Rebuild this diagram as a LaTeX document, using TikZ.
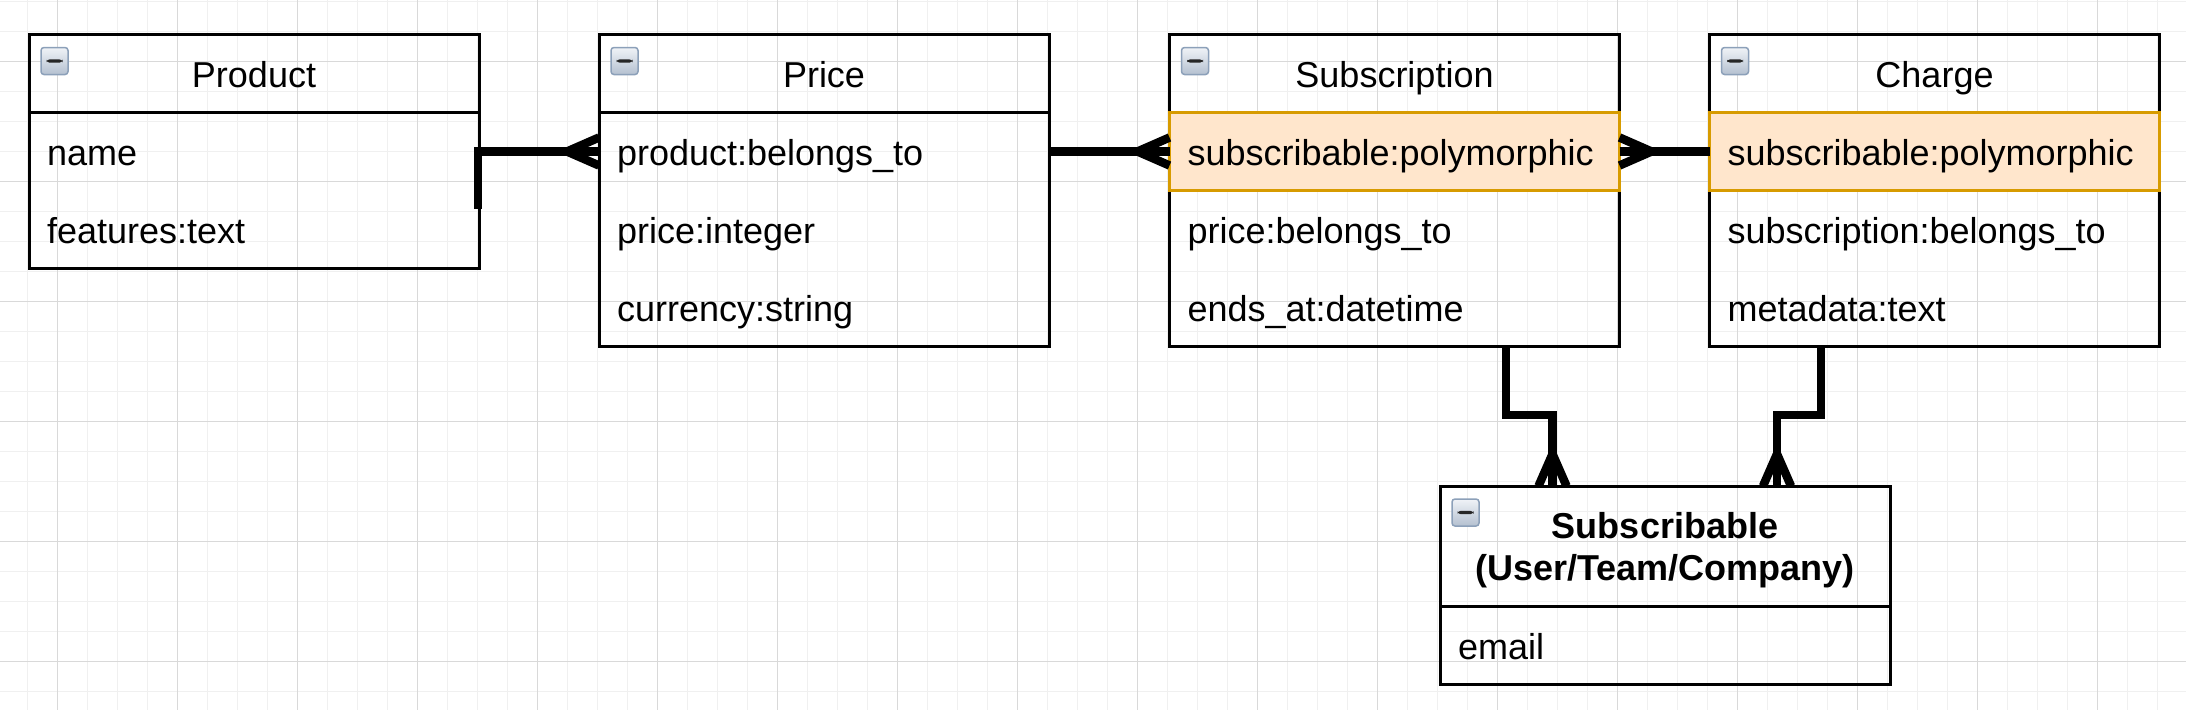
\documentclass[tikz,border=0pt]{standalone}
\usepackage{fontspec}
\setmainfont{Liberation Sans}
\usetikzlibrary{calc}
\newcommand\crowfoot[3]{%
  \draw[conn] ($(#1)+({-14*(#3)},{14*(#2)})$) -- ($(#1)+({32*(#2)},{32*(#3)})$) -- ($(#1)+({14*(#3)},{-14*(#2)})$);}
\begin{document}
\begin{tikzpicture}[x=1pt,y=-1pt,
  every node/.style={outer sep=0pt},
  minorgrid/.style={draw=black!6, line width=1pt},
  majorgrid/.style={draw=black!15, line width=1pt},
  entity/.style={draw=black, line width=3pt, rectangle, minimum width=450pt, inner sep=0pt},
  boxline/.style={draw=black, line width=3pt},
  row/.style={rectangle, minimum width=450pt, minimum height=78pt, inner xsep=18pt, inner ysep=0pt,
    text width=414pt, align=left, text height=30pt, text depth=1.6pt, font=\fontsize{36}{41}\selectfont},
  hl/.style={row, fill={rgb,255:red,255;green,230;blue,204}, draw={rgb,255:red,215;green,155;blue,0}, line width=3pt},
  title/.style={anchor=base, inner sep=0pt, font=\fontsize{36}{41}\selectfont},
  btitle/.style={anchor=base, inner sep=0pt, font=\fontsize{36}{41}\selectfont\bfseries},
  icon/.style={rectangle, minimum size=27pt, inner sep=0pt, rounded corners=3pt,
    draw={rgb,255:red,140;green,160;blue,185}, line width=1.5pt,
    top color={rgb,255:red,240;green,243;blue,247}, bottom color={rgb,255:red,180;green,192;blue,208},
    path picture={\fill[black!85] ($(path picture bounding box.center)+(-8,-1.6)$) rectangle ($(path picture bounding box.center)+(8,1.6)$);}},
  conn/.style={draw=black, line width=8.5pt, line join=miter, line cap=butt}]
\useasboundingbox (0,0) rectangle (2186,710);
\fill[white] (0,0) rectangle (2186,710);
% grid
\foreach \gx in {27,57,...,2186} \draw[minorgrid] (\gx,0) -- (\gx,710);
\foreach \gy in {1.5,31.5,...,710} \draw[minorgrid] (0,\gy) -- (2186,\gy);
\foreach \gx in {57,177,...,2186} \draw[majorgrid] (\gx,0) -- (\gx,710);
\foreach \gy in {61.5,181.5,...,710} \draw[majorgrid] (0,\gy) -- (2186,\gy);

% entity boxes
\node[entity, minimum height=234pt] (product) at (254,151.5) {};
\node[entity, minimum height=312pt] (price) at (824,190.5) {};
\node[entity, minimum height=312pt] (subs) at (1394.5,190.5) {};
\node[entity, minimum height=312pt] (charge) at (1934.5,190.5) {};
\node[entity, minimum height=198pt] (subl) at (1665,585) {};

% header dividers
\draw[boxline] ($(product.north west)+(0,78)$) -- ($(product.north east)+(0,78)$);
\draw[boxline] ($(price.north west)+(0,78)$) -- ($(price.north east)+(0,78)$);
\draw[boxline] ($(subs.north west)+(0,78)$) -- ($(subs.north east)+(0,78)$);
\draw[boxline] ($(charge.north west)+(0,78)$) -- ($(charge.north east)+(0,78)$);
\draw[boxline] ($(subl.north west)+(0,120)$) -- ($(subl.north east)+(0,120)$);

% titles
\node[title] (productt) at (254,87.3) {Product};
\node[title] (pricet) at (824,87.3) {Price};
\node[title] (subst) at (1394.5,87.3) {Subscription};
\node[title] (charget) at (1934.5,87.3) {Charge};
\node[btitle] (sublt1) at (1665,538) {Subscribable};
\node[btitle] (sublt2) at (1665,580) {(User/Team/Company)};

% icons
\node[icon] (producti) at ($(product.north west)+(25.5,26.5)$) {};
\node[icon] (pricei) at ($(price.north west)+(25.5,26.5)$) {};
\node[icon] (subsi) at ($(subs.north west)+(25.5,26.5)$) {};
\node[icon] (chargei) at ($(charge.north west)+(25.5,26.5)$) {};
\node[icon] (subli) at ($(subl.north west)+(25.5,26.5)$) {};

% rows
\node[row] (prname) at (254,151.5) {name};
\node[row] (prfeat) at (254,229.5) {features:text};
\node[row] (pprod) at (824,151.5) {product:belongs\_to};
\node[row] (pprice) at (824,229.5) {price:integer};
\node[row] (pcur) at (824,307.5) {currency:string};
\node[hl] (spoly) at (1394.5,151.5) {subscribable:polymorphic};
\node[row] (sprice) at (1394.5,229.5) {price:belongs\_to};
\node[row] (sends) at (1394.5,307.5) {ends\_at:datetime};
\node[hl] (cpoly) at (1934.5,151.5) {subscribable:polymorphic};
\node[row] (csub) at (1934.5,229.5) {subscription:belongs\_to};
\node[row] (cmeta) at (1934.5,307.5) {metadata:text};
\node[row] (semail) at (1665,645) {email};

% connectors
\draw[conn] (prname.east) -- (pprod.west);
\draw[conn] ($(prname.east)+(-1,-4.5)$) -- ++(0,62);
\crowfoot{pprod.west}{-1}{0}

\draw[conn] (pprod.east) -- (spoly.west);
\crowfoot{spoly.west}{-1}{0}

\draw[conn] (spoly.east) -- (cpoly.west);
\crowfoot{spoly.east}{1}{0}

\coordinate (s4) at ($(subs.south)+(111.5,0)$);
\coordinate (e4) at ($(subl.north)+(-112.5,0)$);
\draw[conn] (s4) -- ++(0,68.5) -| (e4);
\crowfoot{e4}{0}{-1}

\coordinate (s5) at ($(charge.south)+(-113.5,0)$);
\coordinate (e5) at ($(subl.north)+(112,0)$);
\draw[conn] (s5) -- ++(0,68.5) -| (e5);
\crowfoot{e5}{0}{-1}
\end{tikzpicture}
\end{document}
